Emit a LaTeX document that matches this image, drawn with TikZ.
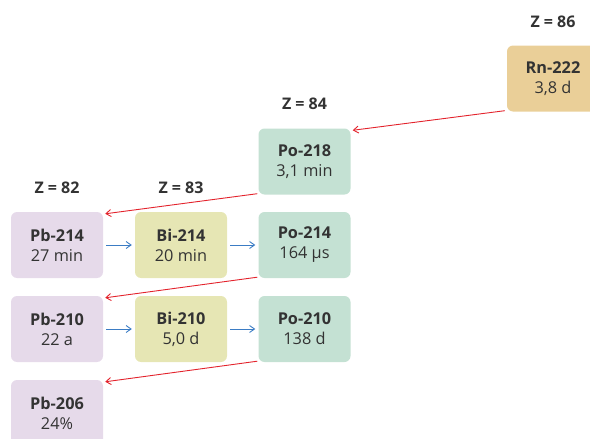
\documentclass[tikz,border=0pt]{standalone}
\usepackage{fontspec}
\setmainfont{Open Sans}
\usetikzlibrary{arrows.meta}
\definecolor{txt}{HTML}{333333}
\definecolor{pbc}{HTML}{E6DAEA}
\definecolor{bic}{HTML}{E6E6B4}
\definecolor{poc}{HTML}{C4E1D3}
\definecolor{rnc}{HTML}{EACF98}
\definecolor{redc}{HTML}{E3232C}
\definecolor{bluec}{HTML}{3B7CC4}
\begin{document}
\begin{tikzpicture}[x=1pt,y=-1pt,
  iso/.style={rounded corners=6pt, minimum width=92pt, minimum height=66pt, inner sep=0pt, align=center, text=txt, font=\fontsize{16.3}{20}\selectfont},
  zlab/.style={text=txt, font=\fontsize{16}{18}\selectfont\bfseries},
  alpha/.style={draw=redc, line width=0.9pt, -{Straight Barb[length=5pt,width=7pt]}},
  beta/.style={draw=bluec, line width=0.9pt, -{Straight Barb[length=5pt,width=7pt]}}]
\useasboundingbox (0,0) rectangle (590,439);
\node[iso, fill=rnc] (rn222) at (553,78.5) {\textbf{Rn-222}\\3,8 d};
\node[iso, fill=poc] (po218) at (304.5,161.5) {\textbf{Po-218}\\3,1 min};
\node[iso, fill=pbc] (pb214) at (57,245) {\textbf{Pb-214}\\27 min};
\node[iso, fill=bic] (bi214) at (181,245) {\textbf{Bi-214}\\20 min};
\node[iso, fill=poc] (po214) at (304.5,245) {\textbf{Po-214}\\164 µs};
\node[iso, fill=pbc] (pb210) at (57,329) {\textbf{Pb-210}\\22 a};
\node[iso, fill=bic] (bi210) at (181,329) {\textbf{Bi-210}\\5,0 d};
\node[iso, fill=poc] (po210) at (304.5,329) {\textbf{Po-210}\\138 d};
\node[iso, fill=pbc] (pb206) at (57,413) {\textbf{Pb-206}\\24\%};
\node[zlab] (z86) at (553,22) {Z = 86};
\node[zlab] (z84) at (304.5,104) {Z = 84};
\node[zlab] (z82) at (57,188) {Z = 82};
\node[zlab] (z83) at (181,188) {Z = 83};
\draw[alpha] ([shift={(-2,-1)}]rn222.south west) -- ([shift={(2,2)}]po218.north east);
\draw[alpha] ([shift={(-1,-1)}]po218.south west) -- ([shift={(2,2)}]pb214.north east);
\draw[alpha] ([shift={(-1,-1)}]po214.south west) -- ([shift={(2,2)}]pb210.north east);
\draw[alpha] ([shift={(-1,-1)}]po210.south west) -- ([shift={(2,2)}]pb206.north east);
\draw[beta] ([xshift=3pt]pb214.east) -- ([xshift=-3pt]bi214.west);
\draw[beta] ([xshift=3pt]bi214.east) -- ([xshift=-3pt]po214.west);
\draw[beta] ([xshift=3pt]pb210.east) -- ([xshift=-3pt]bi210.west);
\draw[beta] ([xshift=3pt]bi210.east) -- ([xshift=-3pt]po210.west);
\end{tikzpicture}
\end{document}
